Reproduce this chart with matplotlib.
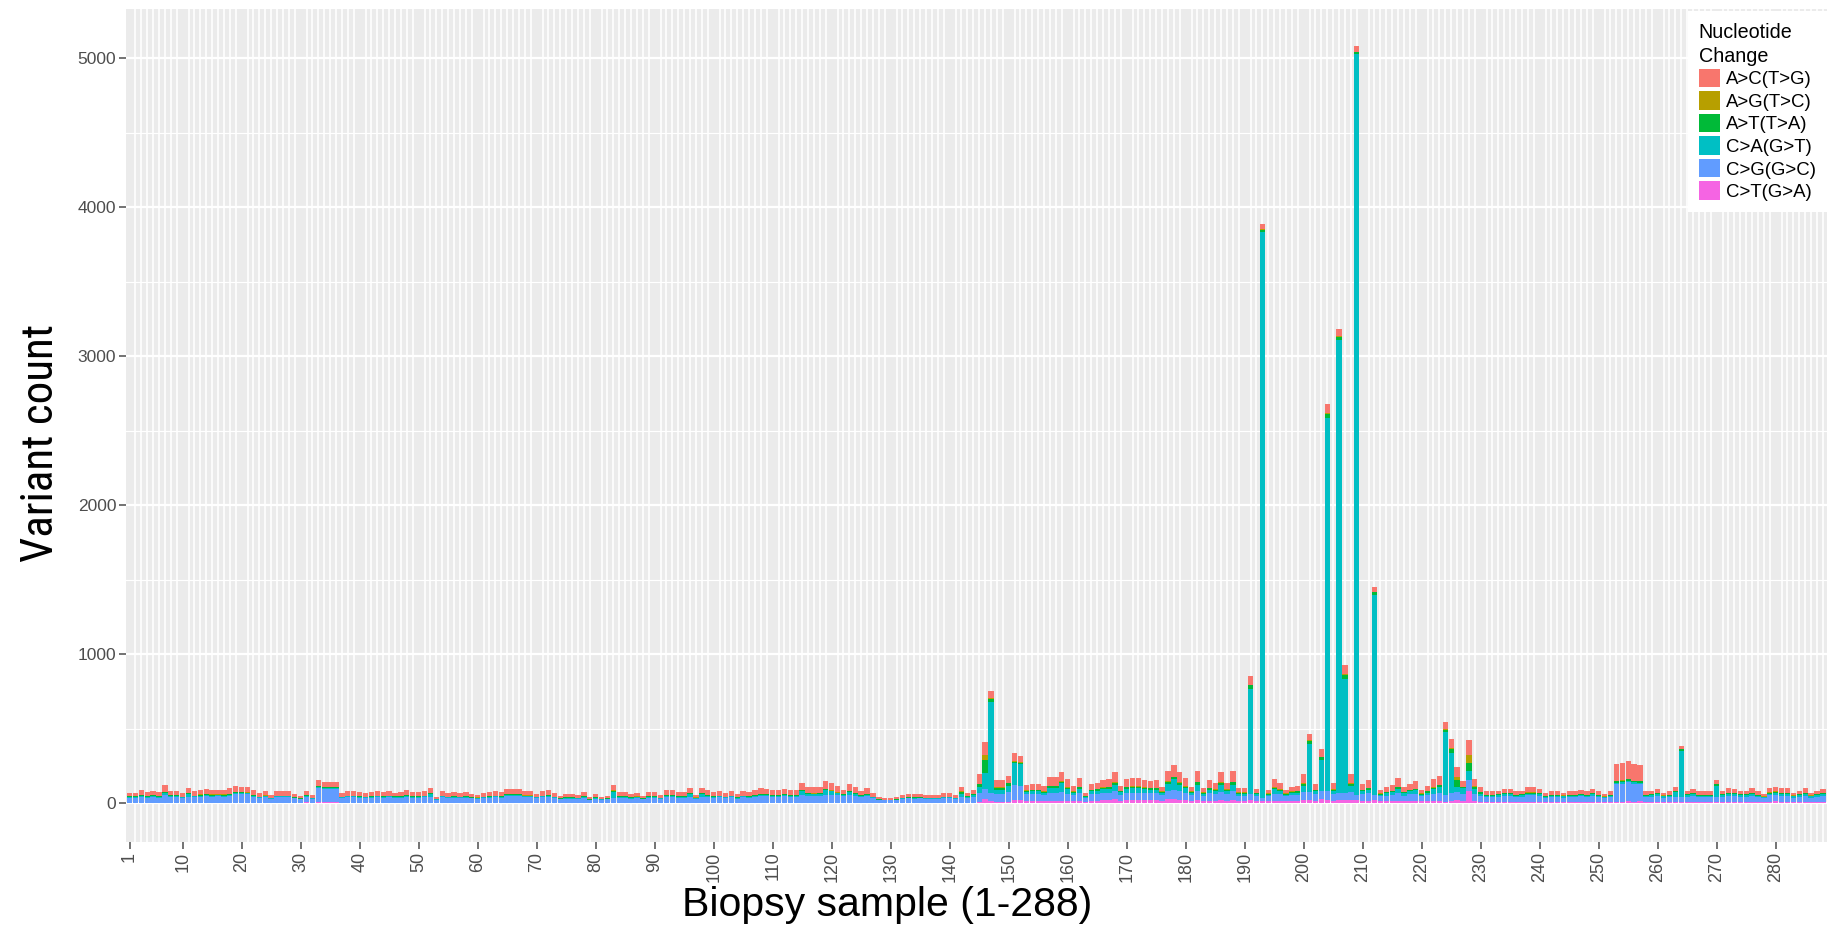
import matplotlib
matplotlib.use("Agg")
import matplotlib.pyplot as plt
from matplotlib.patches import Patch
from matplotlib import font_manager
import numpy as np

# samples 1..288, counts per substitution class
samples = np.arange(1, 289)

ct_ga = [2,2,2,2,2,2,2,2,2,2, 2,2,2,2,2,2,2,2,4,5, 5,4,3,4,2,2,2,2,2,2,
         8,2,8,6,6,6,4,2,2,2, 2,2,2,2,2,2,2,2,2,2, 2,2,2,2,2,2,2,2,2,2,
         2,2,2,2,4,4,4,4,4,4, 2,2,2,2,2,2,2,2,2,2, 2,2,2,2,2,2,2,2,2,2,
         2,2,2,2,2,2,2,2,2,2, 2,2,2,2,2,2,2,2,2,2, 2,2,2,2,2,2,2,2,2,2,
         4,2,4,2,2,2,2,2,2,2, 2,2,2,2,2,2,2,2,2,2, 2,4,4,5,6,27,12,10,10,10,
         22,22,14,15,15,12,18,18,18,16, 12,18,10,15,18,22,24,30,18,22,
         22,22,20,20,20,14,28,30,25,20, 14,25,12,18,16,22,16,22,12,12,
         20,12,15,12,16,16,12,14,14,22, 22,15,27,25,16,20,20,22,20,15,
         18,20,12,14,14,18,14,15,16,12, 14,16,18,11,18,20,18,79,15,8,
         8,8,8,8,8,8,8,8,8,8, 8,8,8,8,8,8,8,8,8,8, 6,8,11,11,15,8,14,8,8,8,
         8,8,8,11,8,8,8,8,8,11, 8,8,8,8,8,8,8,6,10,12, 8,8,8,8,8,8,8,8]

cg_gc = [35,35,42,36,40,36,55,40,40,32, 38,39,43,46,43,44,43,48,58,56,
         54,41,32,38,27,39,38,39,30,25, 36,27,95,90,90,90,32,39,39,35,
         32,35,39,35,39,35,36,42,36,35, 39,40,22,39,32,35,32,35,30,28,
         32,35,39,35,46,46,46,38,38,30, 38,42,32,25,29,29,27,35,19,29,
         22,25,35,35,35,29,33,24,35,35, 26,42,42,35,35,40,28,40,42,35,
         39,32,39,29,39,35,42,48,46,42, 42,46,42,42,55,50,48,50,55,55,
         50,44,52,50,40,48,32,19,17,17, 19,27,31,29,31,27,27,27,32,32,
         27,35,30,35,65,67,60,55,55,65, 100,95,45,45,45,42,50,50,55,48,
         42,50,25,45,45,48,48,55,40,48, 50,50,48,46,46,40,55,60,55,50,
         40,55,38,48,45,55,45,58,38,38, 45,35,20,34,48,45,34,40,40,55,
         56,45,52,60,45,50,50,55,35,45, 48,35,34,38,42,50,38,45,46,34,
         40,48,50,45,50,56,45,79,45,40, 33,33,36,40,40,33,36,45,45,40,
         28,33,33,30,33,33,38,33,40,33, 27,33,119,120,125,122,115,33,36,40,
         30,33,35,34,36,40,33,33,33,34, 36,43,40,36,36,43,33,27,43,45,
         43,43,30,36,43,30,36,40]

ca_gt = [6,6,7,6,7,6,10,7,7,5, 25,6,7,8,7,7,7,8,8,7, 7,7,5,6,4,6,6,6,5,4,
         6,4,6,6,6,6,5,6,6,6, 5,6,6,6,6,6,6,7,6,6, 6,20,4,6,5,6,5,6,5,5,
         5,6,6,6,8,8,8,6,6,5, 6,7,5,4,5,5,4,6,3,5, 4,4,40,6,6,5,6,4,6,6,
         4,7,7,6,6,20,5,18,7,6, 6,5,6,5,6,6,7,8,8,7, 7,8,7,7,25,12,10,12,30,22,
         12,8,20,10,7,8,5,3,3,3, 3,4,5,5,5,4,4,4,5,5, 4,25,8,15,35,108,610,25,25,40,
         150,145,18,20,20,16,35,35,60,30, 16,30,8,20,22,25,26,40,15,28,
         30,30,26,24,25,15,45,70,45,30, 15,45,14,25,22,45,22,45,14,14,
         700,14,3800,12,30,22,12,15,18,40, 320,20,209,2500,22,3040,765,40,4970,20,
         25,1340,12,15,18,30,15,20,24,12, 18,30,40,420,270,34,38,61,35,15,
         9,9,10,11,11,9,10,12,12,11, 8,9,9,9,9,9,11,9,11,9, 8,9,9,10,12,10,9,9,10,11,
         9,9,30,303,10,11,9,9,9,72, 10,12,11,10,10,12,9,8,12,13, 12,12,9,10,12,9,10,11]

at_ta = [4,4,4,4,4,4,8,4,4,3, 4,4,5,5,5,5,5,5,6,6, 5,4,3,4,3,4,4,4,3,3,
         4,3,4,4,4,4,3,4,4,4, 3,4,4,4,4,4,4,4,4,4, 4,5,2,4,3,4,3,4,3,3,
         3,4,4,4,5,5,5,4,4,3, 4,4,3,3,3,3,3,4,2,3, 2,3,8,4,4,3,4,2,4,4,
         3,4,4,4,4,5,3,6,4,4, 4,3,4,3,4,4,4,5,5,4, 4,5,4,4,6,6,5,5,7,6,
         6,5,6,5,4,5,3,2,2,2, 2,3,3,3,3,3,3,3,3,3, 3,12,4,8,22,90,18,15,15,18,
         7,7,8,8,8,7,12,12,12,10, 7,10,5,8,9,10,10,14,8,10,
         10,10,10,10,10,8,15,15,13,10, 8,15,7,10,9,14,9,15,7,7,
         27,6,15,6,10,9,6,8,8,13, 22,8,22,30,9,20,25,13,15,8,
         10,20,6,7,8,10,7,8,9,6, 8,10,12,18,27,45,6,52,15,10,
         6,6,6,7,7,6,6,7,7,7, 5,6,6,5,6,6,6,6,7,6, 4,6,11,11,12,10,10,6,6,7,
         5,6,8,16,6,7,6,6,6,13, 6,7,7,6,6,7,6,4,7,8, 7,7,5,6,7,5,6,7]

ag_tc = [1,1,2,1,2,1,2,2,2,1, 2,1,2,2,2,2,2,2,2,2, 2,2,1,1,1,1,1,1,1,1,
         1,1,2,2,2,2,1,1,1,1, 1,1,1,1,1,1,1,2,1,1, 1,2,1,1,1,1,1,1,1,1,
         1,1,1,1,2,2,2,1,1,1, 1,2,1,1,1,1,1,1,1,1, 1,1,2,1,1,1,1,1,1,1,
         1,2,2,1,1,2,1,2,2,1, 1,1,1,1,1,1,2,2,2,2, 2,2,2,2,2,2,2,2,2,2,
         2,2,2,2,2,2,1,1,1,1, 1,1,1,1,1,1,1,1,1,1, 1,6,1,2,4,29,5,3,3,4,
         5,5,2,2,2,2,3,3,3,3, 2,3,1,2,2,3,3,4,2,3, 3,3,3,3,3,2,4,4,4,3,
         2,4,2,3,3,4,3,4,2,2, 3,2,2,2,3,3,2,2,2,4, 3,2,3,5,3,3,5,4,3,2,
         3,3,2,2,2,3,2,2,3,2, 2,3,3,3,3,22,2,56,4,2,
         2,2,2,2,2,2,2,2,2,2, 1,2,2,1,2,2,2,2,2,2, 1,2,2,2,2,2,2,2,2,2,
         1,2,2,2,2,2,2,2,2,2, 2,2,2,2,2,2,2,1,2,2, 2,2,1,2,2,1,2,2]

ac_tg = [24,24,31,27,28,27,47,28,28,24, 30,29,31,32,31,32,31,36,37,34,
         35,28,24,28,19,29,28,29,22,17, 26,19,38,32,32,32,23,29,29,26,
         25,26,29,26,29,24,27,31,27,26, 29,32,14,29,25,26,25,26,22,19,
         25,26,29,26,30,30,30,28,28,22, 28,31,24,17,21,21,19,26,13,21,
         14,17,37,26,26,21,24,16,26,26, 18,31,31,26,26,32,19,33,31,26,
         29,24,29,21,29,26,31,36,34,31, 31,34,31,31,43,40,39,37,50,50,
         41,31,42,39,30,36,24,13,11,11, 13,19,23,21,23,19,19,19,24,24,
         19,28,20,25,63,88,45,45,45,48, 55,46,37,40,40,38,57,57,63,55,
         38,58,23,40,43,49,51,68,34,51, 54,54,50,48,49,33,71,77,69,56,
         33,74,28,49,44,71,44,74,28,28, 57,25,38,24,55,44,24,33,35,64,
         42,40,51,60,44,47,65,64,37,40, 49,32,24,30,40,58,30,40,48,24,
         35,55,57,51,64,63,41,95,51,37, 21,21,23,26,26,21,23,32,32,26,
         17,21,21,19,21,21,25,21,26,21, 17,21,113,116,119,113,106,21,23,26,
         19,21,27,20,23,26,21,21,21,21, 23,29,26,23,23,29,21,17,27,30,
         29,29,19,23,29,19,23,26]

labels = ["A>C(T>G)", "A>G(T>C)", "A>T(T>A)", "C>A(G>T)", "C>G(G>C)", "C>T(G>A)"]
colors = ["#F8766D", "#B79F00", "#00BA38", "#00BFC4", "#619CFF", "#F564E3"]
x_ticks = [1] + list(range(10, 281, 10))

plt.rcParams["font.family"] = ["Liberation Sans", "DejaVu Sans"]

# a condensed face for the y title, if one is installed
narrow = None
for want in ["Liberation Sans Narrow", "Roboto Condensed", "DejaVu Sans Condensed"]:
    for f in font_manager.fontManager.ttflist:
        base = f.fname.split("/")[-1].replace("-", " ").replace("_", " ")
        if (f.name == want or want.replace(" ", "") in base.replace(" ", "")) \
                and "Bold" not in base and "Italic" not in base and "Oblique" not in base:
            narrow = f.fname
            break
    if narrow:
        break
ylab_font = (font_manager.FontProperties(fname=narrow) if narrow
             else font_manager.FontProperties(family="Liberation Sans"))

fig = plt.figure(figsize=(18.27, 9.43), dpi=100)
ax = fig.add_axes([126/1827, 1 - 842/943, 1 - 126/1827, 833/943])
ax.set_facecolor("#EBEBEB")
for s in ax.spines.values():
    s.set_visible(False)

# stack from the bottom: C>T first, A>C on top (ggplot order)
stack = [ct_ga, cg_gc, ca_gt, at_ta, ag_tc, ac_tg]
stack_cols = colors[::-1]
bottom = np.zeros(len(samples))
for vals, col in zip(stack, stack_cols):
    vals = np.array(vals)
    ax.bar(samples, vals, width=0.9, bottom=bottom, color=col, linewidth=0)
    bottom += vals

ax.set_xlim(0.4, 288.7)
ax.set_ylim(-260, 5330)

ax.set_yticks(range(0, 5001, 1000))
ax.set_yticks(range(500, 5001, 1000), minor=True)
ax.set_xticks(x_ticks)
ax.set_xticks(samples, minor=True)
ax.grid(which="major", axis="y", color="white", lw=1.6)
ax.grid(which="minor", axis="y", color="white", lw=0.8)
ax.grid(which="minor", axis="x", color="white", lw=1.2)
ax.set_axisbelow(True)

ax.tick_params(axis="both", which="major", colors="#4D4D4D", labelsize=12.5,
               length=5, width=1.1, pad=2)
ax.tick_params(axis="x", which="major", labelrotation=90, labelsize=13)
ax.tick_params(which="minor", length=0)
ax.set_xticklabels([str(t) for t in x_ticks])

ylab = fig.text(41/1827, 1 - 443/943, "Variant count", rotation=90, ha="center",
                va="center", fontproperties=ylab_font, fontsize=37, color="black")
fig.canvas.draw()
h = ylab.get_window_extent().height
ylab.set_fontsize(37 * 238 / h)

fig.text(887/1827, 1 - 905/943, "Biopsy sample (1-288)", ha="center", va="center",
         fontsize=29.5, color="black")

handles = [Patch(facecolor=c, edgecolor="none") for c in colors]
leg = ax.legend(handles, labels, title="Nucleotide\nChange", loc="upper left",
                bbox_to_anchor=(0.918, 0.997), fontsize=13.4, title_fontsize=14.2,
                frameon=True, fancybox=False, framealpha=1, edgecolor="white",
                handlelength=1.15, handleheight=1.15, handletextpad=0.3,
                labelspacing=0.16, borderpad=0.6, alignment="left", borderaxespad=0)
leg.get_frame().set_linewidth(0)
leg.get_title().set_linespacing(1.35)

fig.savefig("out.png", dpi=100)
